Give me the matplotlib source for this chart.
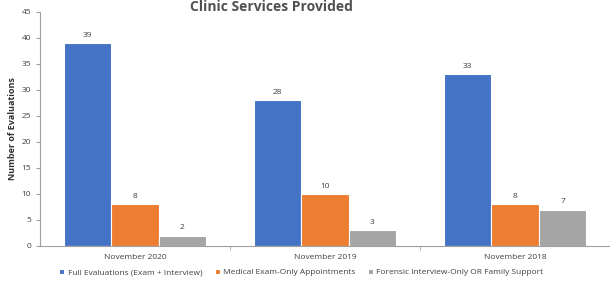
import matplotlib
matplotlib.use("Agg")
import matplotlib.pyplot as plt
import numpy as np

categories = ["November 2020", "November 2019", "November 2018"]
series_names = ["Full Evaluations (Exam + Interview)",
                "Medical Exam-Only Appointments",
                "Forensic Interview-Only OR Family Support"]
full_eval = [39, 28, 33]
medical_only = [8, 10, 8]
forensic_only = [2, 3, 7]
colors = ["#4472C4", "#ED7D31", "#A5A5A5"]
yticks = [0, 5, 10, 15, 20, 25, 30, 35, 40, 45]

plt.rcParams['font.family'] = ['Open Sans', 'DejaVu Sans']

fig = plt.figure(figsize=(6.10, 2.84), dpi=100)
ax = fig.add_axes([40/610, 38/284, 570/610, 234/284])

x = np.arange(len(categories))
w = 0.25
series = [full_eval, medical_only, forensic_only]
for i, (vals, name, c) in enumerate(zip(series, series_names, colors)):
    bars = ax.bar(x + (i - 1) * w, vals, w, color=c, edgecolor='white', linewidth=0.8, label=name)
    for b, v in zip(bars, vals):
        ax.text(b.get_x() + b.get_width() / 2, v + 0.8, str(v), ha='center', va='bottom',
                fontsize=6, color='#404040')

ax.set_xlim(-0.5, 2.5)
ax.set_ylim(0, 45)
ax.set_yticks(yticks)
ax.set_xticks(x)
ax.set_xticklabels(categories)
ax.set_xticks([0.5, 1.5], minor=True)
ax.tick_params(axis='x', which='major', length=0, labelsize=6, colors='#404040', pad=6)
ax.tick_params(axis='x', which='minor', length=3, color='#A0A0A0', direction='out')
ax.tick_params(axis='y', labelsize=6, colors='#404040', length=3, color='#A0A0A0', direction='out')
for s in ['top', 'right']:
    ax.spines[s].set_visible(False)
ax.spines['left'].set_color('#A0A0A0')
ax.spines['bottom'].set_color('#A0A0A0')
ax.spines['left'].set_linewidth(0.8)
ax.spines['bottom'].set_linewidth(0.8)

ax.set_ylabel("Number of Evaluations", fontsize=6.5, fontweight='bold', color='#303030', labelpad=3)

fig.legend(loc='lower center', bbox_to_anchor=(0.494, 0.0), ncol=3, frameon=False,
           fontsize=6, handlelength=0.6, handleheight=0.6, columnspacing=1.5,
           handletextpad=0.4, labelcolor='#404040')

fig.text(0.445, 1.0, "Clinic Services Provided", ha='center', va='top',
         fontsize=10, fontweight='bold', color='#505050')

fig.savefig("out.png", dpi=100)
